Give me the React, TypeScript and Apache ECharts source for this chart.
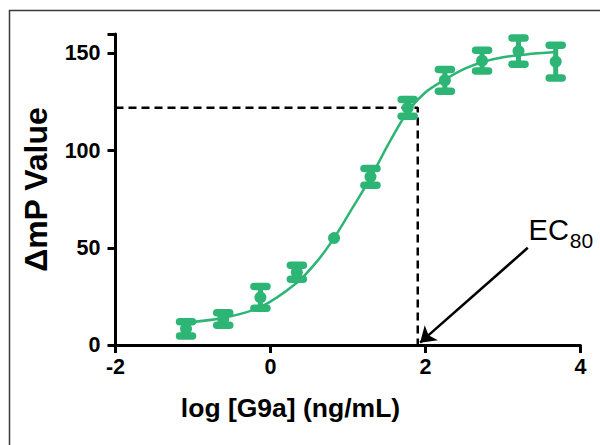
import React, { useEffect, useRef } from "react";
import * as echarts from "echarts";

// Measured data points (log concentration, mean ΔmP, error)
const logConc = [-1.09, -0.61, -0.13, 0.34, 0.82, 1.29, 1.77, 2.25, 2.73, 3.2, 3.68];
const meanValues = [8.3, 13.4, 24.5, 37.4, 55, 86.5, 122, 136.2, 146.3, 151.2, 145.8];
const errValues = [3.7, 3.2, 5.6, 3.6, 0, 4.3, 4.3, 5.6, 5.3, 6.8, 8.4];

// Fitted curve
const curveX = [-1.09, -0.6, -0.13, 0.34, 0.6, 0.82, 1.05, 1.29, 1.53, 1.77, 2.0, 2.25, 2.5, 2.73, 3.0, 3.3, 3.68];
const curveY = [11.5, 14, 19.5, 32, 43, 55, 70, 86, 104, 120, 130, 136.5, 142, 145.5, 148, 149.5, 150.7];

// EC80 guide lines
const ec80X = 1.9;
const ec80Y = 122;
const guideLine = [[-2, ec80Y], [ec80X, ec80Y], [ec80X, 0]];
const arrowStart = [3.32, 50];
const arrowEnd = [1.93, 1.2];
const labelPos = [3.33, 58];

const xTicks = { min: -2, max: 4, interval: 2 };
const yTicks = { min: 0, max: 160, interval: 50 };

const GREEN = "#2cb574";
const FONT = "'Liberation Sans', Arial, Helvetica, sans-serif";

export default function App() {
  const ref = useRef<HTMLDivElement>(null);

  useEffect(() => {
    if (!ref.current) return;
    const chart = echarts.init(ref.current, undefined, { renderer: "svg" });
    const option: any = {
      animation: false,
      backgroundColor: "#fff",
      graphic: [
        {
          type: "rect",
          shape: { x: 9.5, y: 10.5, width: 640, height: 480 },
          style: { fill: "none", stroke: "#3a3a3a", lineWidth: 1.5 },
          silent: true,
        },
      ],
      grid: { left: 115.5, right: 19.5, top: 34, bottom: 100 },
      xAxis: {
        type: "value",
        min: xTicks.min,
        max: xTicks.max,
        interval: xTicks.interval,
        axisLine: { onZero: false, lineStyle: { color: "#000", width: 3 } },
        axisTick: { length: 8, lineStyle: { color: "#000", width: 3 } },
        splitLine: { show: false },
        axisLabel: { color: "#000", fontSize: 21.5, fontWeight: "bold", fontFamily: FONT, margin: 11 },
        name: "log [G9a] (ng/mL)",
        nameLocation: "middle",
        nameGap: 49,
        nameTextStyle: { color: "#000", fontSize: 26.5, fontWeight: "bold", fontFamily: FONT, padding: [0, 115, 0, 0] },
      },
      yAxis: {
        type: "value",
        min: yTicks.min,
        max: yTicks.max,
        interval: yTicks.interval,
        axisLine: { onZero: false, lineStyle: { color: "#000", width: 3 } },
        axisTick: { length: 8, lineStyle: { color: "#000", width: 3 } },
        splitLine: { show: false },
        axisLabel: {
          color: "#000",
          fontSize: 21.5,
          fontWeight: "bold",
          fontFamily: FONT,
          margin: 15,
          formatter: (v: number) => (v % 50 === 0 ? String(v) : ""),
        },
        name: "ΔmP Value",
        nameLocation: "middle",
        nameGap: 64,
        nameTextStyle: { color: "#000", fontSize: 32, fontWeight: "bold", fontFamily: FONT },
      },
      series: [
        {
          type: "line",
          data: guideLine,
          symbol: "none",
          lineStyle: { color: "#000", width: 2.5, type: [8, 5] },
          z: 1,
          markLine: {
            silent: true,
            symbol: ["none", "arrow"],
            symbolSize: 15,
            label: { show: false },
            lineStyle: { color: "#000", width: 2.5, type: "solid" },
            data: [[{ coord: arrowStart }, { coord: arrowEnd }]],
          },
          markPoint: {
            symbol: "circle",
            symbolSize: 0,
            data: [{ coord: labelPos }],
            label: {
              show: true,
              position: "right",
              distance: 0,
              formatter: "{a|EC}{b|80}",
              rich: {
                a: { fontSize: 29, fontFamily: FONT, color: "#000", lineHeight: 34, verticalAlign: "top" },
                b: { fontSize: 21, fontFamily: FONT, color: "#000", lineHeight: 22, verticalAlign: "top", padding: [15, 0, 0, 1] },
              },
            },
          },
        },
        {
          type: "line",
          data: curveX.map((x, i) => [x, curveY[i]]),
          symbol: "none",
          smooth: 0.3,
          lineStyle: { color: GREEN, width: 2.5 },
          z: 2,
        },
        {
          type: "custom",
          data: logConc.map((x, i) => [x, meanValues[i], errValues[i]]),
          encode: { x: 0, y: 1 },
          z: 3,
          renderItem: (params: any, api: any) => {
            const x = api.value(0);
            const m = api.value(1);
            const e = api.value(2);
            if (!e) return null;
            const top = api.coord([x, m + e]);
            const bot = api.coord([x, m - e]);
            const cw = 6.5;
            return {
              type: "group",
              children: [
                { type: "line", shape: { x1: top[0], y1: top[1], x2: bot[0], y2: bot[1] }, style: { stroke: GREEN, lineWidth: 5 } },
                { type: "line", shape: { x1: top[0] - cw, y1: top[1], x2: top[0] + cw, y2: top[1] }, style: { stroke: GREEN, lineWidth: 7.5, lineCap: "round" } },
                { type: "line", shape: { x1: bot[0] - cw, y1: bot[1], x2: bot[0] + cw, y2: bot[1] }, style: { stroke: GREEN, lineWidth: 7.5, lineCap: "round" } },
              ],
            };
          },
        },
        {
          type: "scatter",
          data: logConc.map((x, i) => [x, meanValues[i]]),
          symbol: "circle",
          symbolSize: 12,
          itemStyle: { color: GREEN, opacity: 1 },
          z: 4,
        },
      ],
    };
    chart.setOption(option);
    return () => chart.dispose();
  }, []);

  return (
    <div
      ref={ref}
      style={{ position: "absolute", left: 0, top: 0, width: 600, height: 445, background: "#fff" }}
    />
  );
}
